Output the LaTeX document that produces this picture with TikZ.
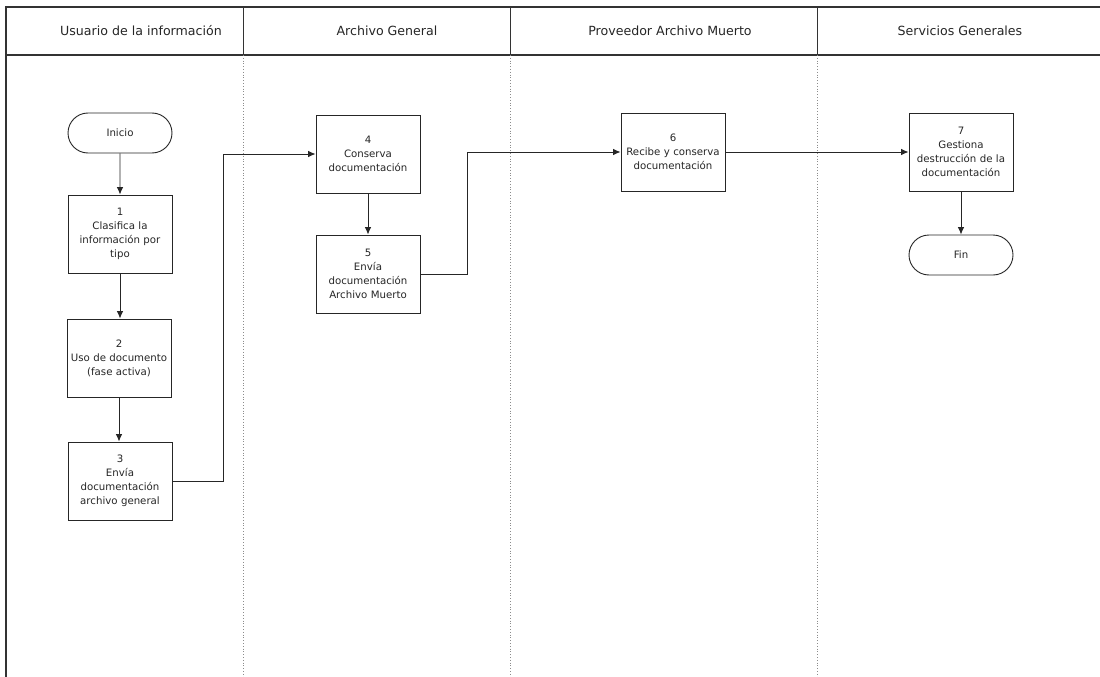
\documentclass[tikz,border=0pt]{standalone}
\usepackage{fontspec}
\setmainfont{DejaVu Sans}
\usetikzlibrary{arrows.meta,shapes.misc}
\begin{document}
\begin{tikzpicture}[x=1pt,y=-1pt,
  frame/.style={draw=black!80,line width=1.3pt},
  lanesep/.style={draw=black!45,line width=0.8pt,dotted},
  hdr/.style={font=\fontsize{12.6}{15}\selectfont,text=black!85},
  stepbox/.style={draw=black!85,line width=0.9pt,rectangle,minimum width=104pt,minimum height=78pt,inner sep=0pt,text width=104pt,align=center,font=\fontsize{10.2}{14}\selectfont,text=black!85},
  term/.style={draw=black!85,line width=0.9pt,rounded rectangle,minimum width=104pt,minimum height=40pt,inner sep=0pt,font=\fontsize{10.2}{14}\selectfont,text=black!85},
  flow/.style={draw=black!85,line width=0.9pt,-{Latex[length=7.5pt,width=6.5pt]}},
  link/.style={draw=black!85,line width=0.9pt}]
\useasboundingbox (0,0) rectangle (1100,677);
\fill[white] (0,0) rectangle (1100,677);
% frame and header
\draw[frame] (1100,7) -- (6,7) -- (6,677);
\draw[frame] (6,55) -- (1100,55);
\foreach \x in {243,510,817}{
  \draw[frame,line width=1pt] (\x,7) -- (\x,55);
  \draw[lanesep] (\x,55) -- (\x,677);
}
\node[hdr] (h1) at (141,31) {Usuario de la información};
\node[hdr] (h2) at (387,31) {Archivo General};
\node[hdr] (h3) at (670,31) {Proveedor Archivo Muerto};
\node[hdr] (h4) at (960,31) {Servicios Generales};
% nodes
\node[term] (ini) at (120,133) {Inicio};
\node[stepbox] (s1) at (120,234) {1\\Clasifica la\\información por\\tipo};
\node[stepbox] (s2) at (119,358) {2\\Uso de documento\\(fase activa)};
\node[stepbox] (s3) at (120,481) {3\\Envía\\documentación\\archivo general};
\node[stepbox] (s4) at (368,154) {4\\Conserva\\documentación};
\node[stepbox] (s5) at (368,274) {5\\Envía\\documentación\\Archivo Muerto};
\node[stepbox] (s6) at (673,152) {6\\Recibe y conserva\\documentación};
\node[stepbox] (s7) at (961,152) {7\\Gestiona\\destrucción de la\\documentación};
\node[term] (fin) at (961,255) {Fin};
% connectors
\draw[flow] (ini) -- (s1);
\draw[flow] (s1.south) -- (s1.south |- s2.north);
\draw[flow] (s2.south) -- (s2.south |- s3.north);
\draw[flow] (s3.east) -- (223,481) -- (223,154) -- (s4.west);
\draw[flow] (s4) -- (s5);
\draw[flow] (s5.east) -- (467,274) -- (467,152) -- (s6.west);
\draw[flow] (s6) -- (s7);
\draw[flow] (s7) -- (fin);
\end{tikzpicture}
\end{document}
